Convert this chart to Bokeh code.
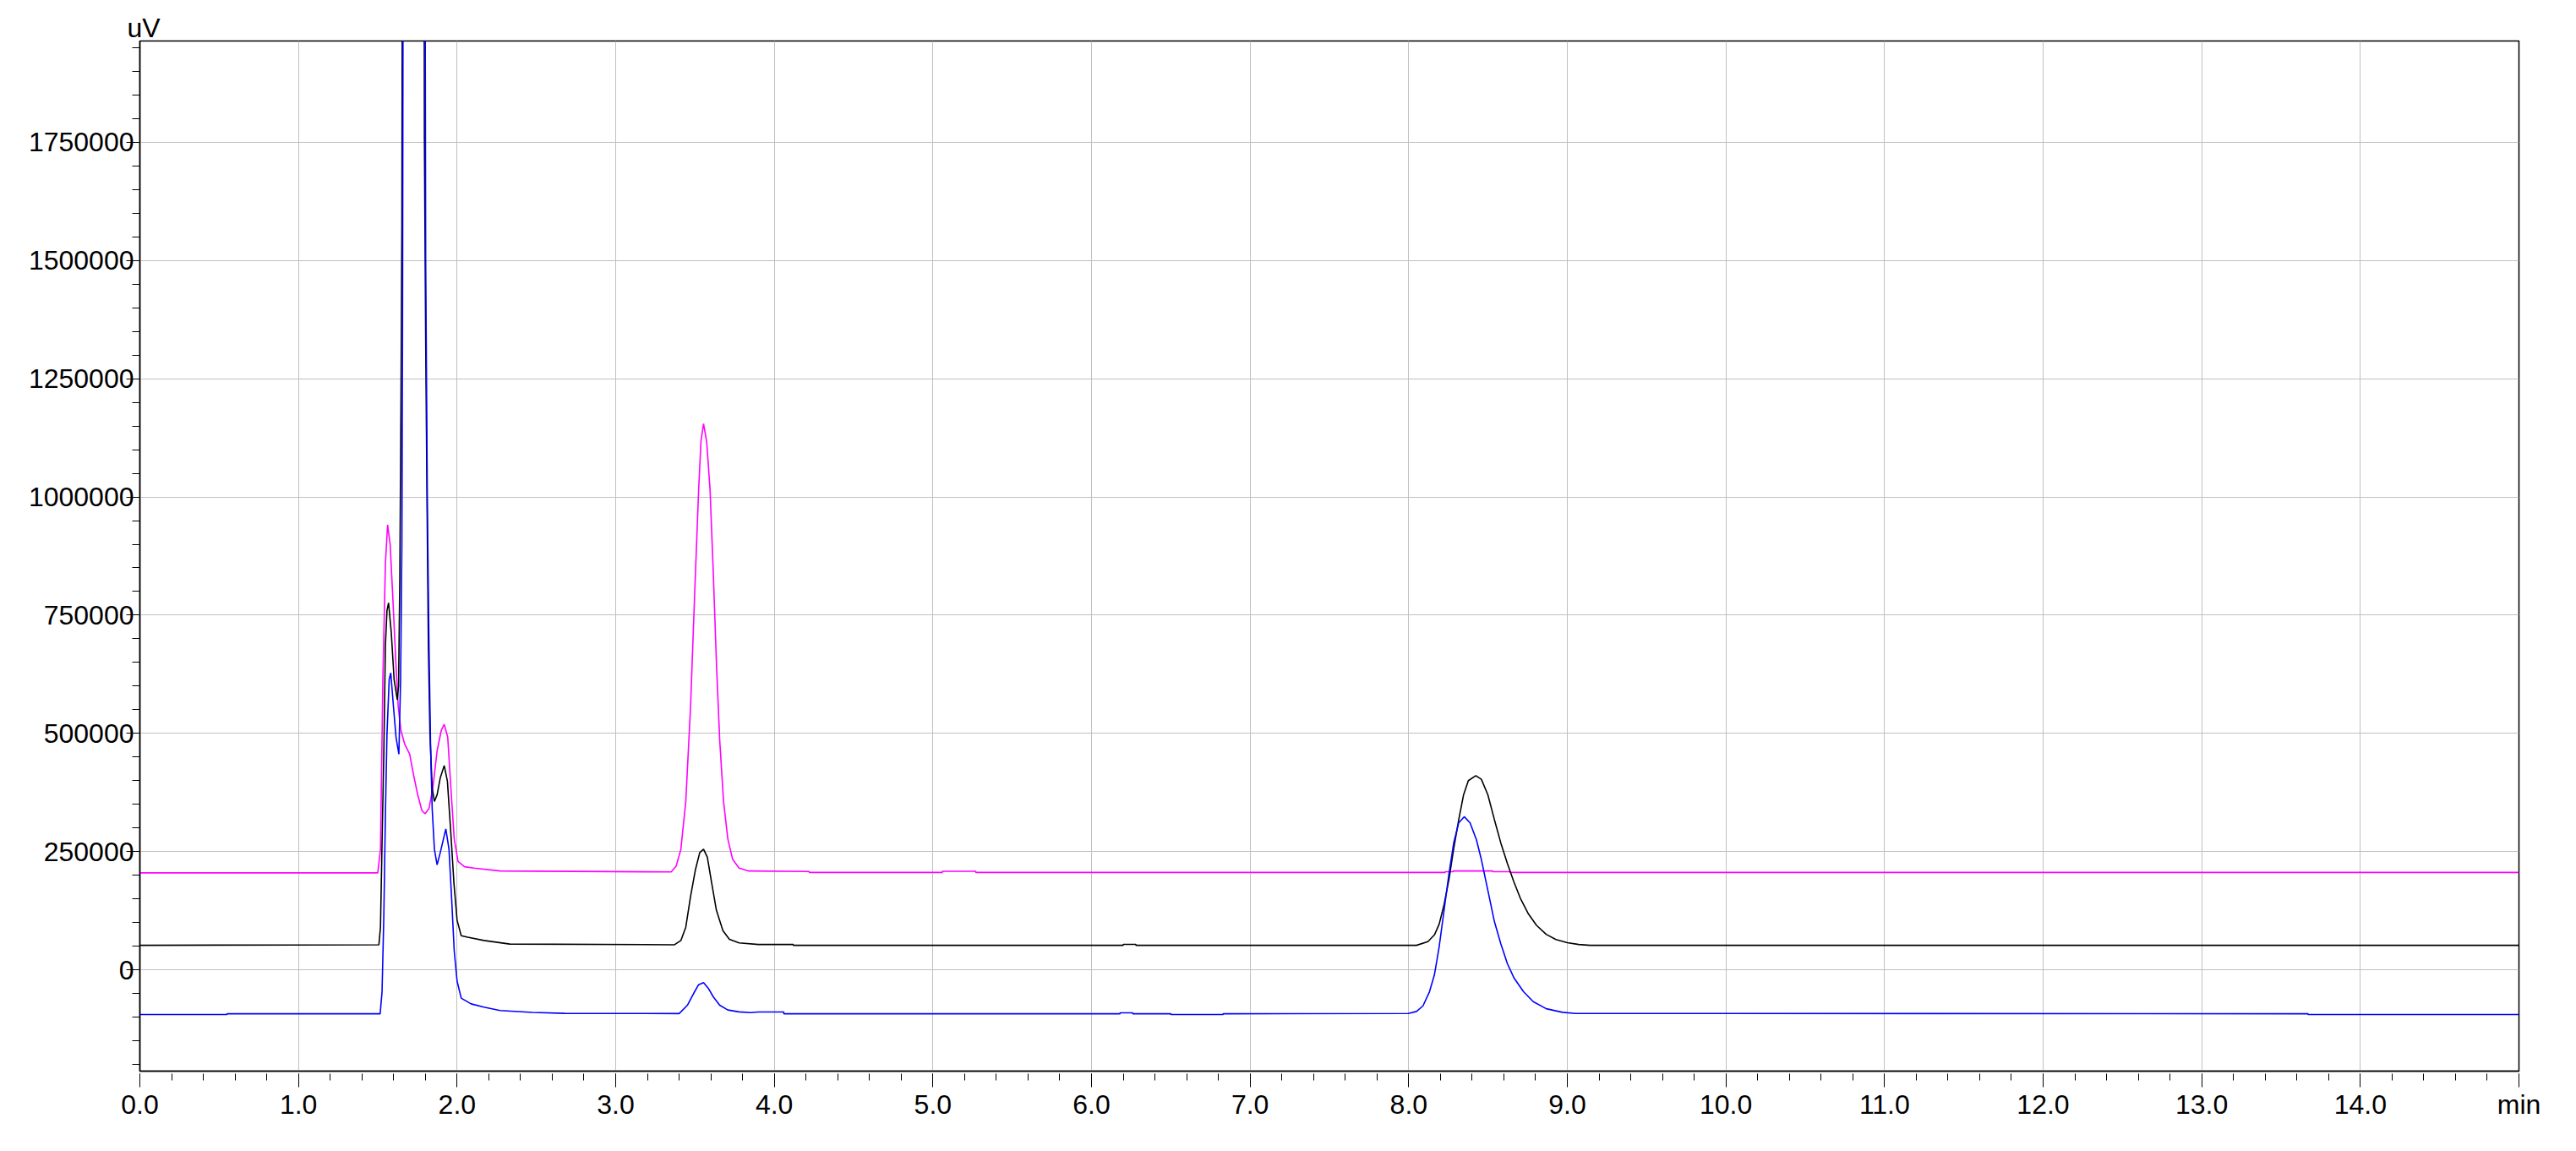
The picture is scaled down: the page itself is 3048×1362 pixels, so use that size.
from bokeh.plotting import figure
from bokeh.models import Range1d, FixedTicker, Title
from bokeh.embed import file_html
from bokeh.resources import INLINE

# ---- axis ticks / labels ----
x_major = [0, 1, 2, 3, 4, 5, 6, 7, 8, 9, 10, 11, 12, 13, 14, 15]
x_labels = ["0.0", "1.0", "2.0", "3.0", "4.0", "5.0", "6.0", "7.0", "8.0",
            "9.0", "10.0", "11.0", "12.0", "13.0", "14.0", "min"]
x_minor = [round(i * 0.2, 1) for i in range(0, 76)]
y_major = [0, 250000, 500000, 750000, 1000000, 1250000, 1500000, 1750000]
y_labels = ["0", "250000", "500000", "750000", "1000000", "1250000", "1500000", "1750000"]
y_minor = [i * 50000 for i in range(-4, 40)]
y_unit = "uV"

# ---- trace 1 (magenta) ----
t_magenta = [0.0, 1.50, 1.517, 1.532, 1.548, 1.562, 1.578, 1.595, 1.615, 1.629, 1.646,
             1.670, 1.701, 1.725, 1.752, 1.778, 1.798, 1.823, 1.847, 1.874, 1.900,
             1.919, 1.941, 1.961, 1.982, 2.006, 2.047, 2.108, 2.271, 3.35, 3.381,
             3.411, 3.442, 3.472, 3.497, 3.523, 3.538, 3.554, 3.574, 3.595, 3.615,
             3.636, 3.656, 3.680, 3.707, 3.737, 3.778, 3.839, 4.22, 4.22, 5.06,
             5.06, 5.27, 5.27, 8.23, 8.23, 8.28, 8.28, 8.53, 8.53, 8.64, 8.64, 15.0]
v_magenta = [205000, 205000, 255000, 614000, 858000, 941000, 900000, 786000, 642000,
             556000, 506000, 477000, 456000, 413000, 370000, 337000, 330000, 341000,
             384000, 463000, 506000, 519000, 492000, 384000, 277000, 229000, 218000,
             215000, 209000, 207000, 219000, 255000, 356000, 556000, 786000, 1015000,
             1119000, 1155000, 1116000, 1015000, 843000, 642000, 485000, 356000,
             277000, 234000, 215000, 209000, 208000, 206000, 206000, 208500, 208500,
             206000, 206000, 207500, 207500, 209000, 209000, 207500, 207500, 206000,
             206000]

# ---- trace 2 (black) ----
t_black = [0.0, 1.507, 1.517, 1.527, 1.538, 1.548, 1.558, 1.568, 1.585, 1.603, 1.623,
           1.631, 1.639, 1.646, 1.652, 1.656, 1.665, 1.72, 1.785, 1.791, 1.794, 1.802,
           1.811, 1.819, 1.829, 1.843, 1.857, 1.874, 1.894, 1.919, 1.939, 1.959, 1.980,
           2.000, 2.026, 2.067, 2.169, 2.332, 3.371, 3.411, 3.442, 3.472, 3.503, 3.530,
           3.554, 3.578, 3.605, 3.635, 3.676, 3.717, 3.778, 3.900, 4.12, 4.12, 6.20,
           6.20, 6.28, 6.28, 8.049, 8.121, 8.162, 8.192, 8.223, 8.254, 8.284, 8.315,
           8.346, 8.376, 8.423, 8.458, 8.499, 8.540, 8.581, 8.622, 8.663, 8.703, 8.755,
           8.806, 8.867, 8.928, 9.0, 9.072, 9.143, 15.0]
v_black = [51800, 53000, 90000, 270000, 456000, 685000, 760000, 776000, 714000, 614000,
           571000, 600000, 829000, 1187000, 1575000, 2400000, 6000000, 12000000,
           6000000, 2400000, 1761000, 1331000, 972000, 685000, 499000, 384000, 356000,
           370000, 406000, 432000, 399000, 298000, 184000, 105000, 72000, 69000, 62000,
           54500, 53000, 62000, 90000, 155000, 212000, 248000, 255000, 238000, 184000,
           126000, 83000, 64500, 57000, 53500, 53500, 51800, 51800, 53700, 53700, 51800,
           51800, 59500, 73800, 96400, 138000, 191700, 257000, 316700, 370200, 400000,
           410700, 403000, 370200, 318000, 268000, 225000, 186000, 152000, 118000,
           94000, 75000, 64000, 57500, 53600, 51800, 51800]

# ---- trace 3 (blue) ----
t_blue = [0.0, 0.55, 0.55, 1.515, 1.527, 1.538, 1.548, 1.558, 1.572, 1.582, 1.599,
          1.615, 1.633, 1.644, 1.652, 1.656, 1.661, 1.67, 1.73, 1.79, 1.797, 1.802,
          1.813, 1.823, 1.833, 1.843, 1.857, 1.874, 1.894, 1.929, 1.949, 1.965, 1.982,
          2.000, 2.026, 2.088, 2.169, 2.271, 2.475, 2.678, 3.40, 3.411, 3.452, 3.493,
          3.523, 3.554, 3.584, 3.615, 3.656, 3.707, 3.778, 3.85, 3.90, 4.06, 4.06,
          6.18, 6.18, 6.26, 6.26, 6.50, 6.50, 6.83, 6.83, 7.998, 8.049, 8.090, 8.131,
          8.162, 8.192, 8.223, 8.254, 8.284, 8.315, 8.350, 8.387, 8.427, 8.458, 8.499,
          8.540, 8.581, 8.622, 8.663, 8.724, 8.785, 8.867, 8.969, 9.051, 13.67, 13.67,
          15.0]
v_blue = [-94600, -94600, -92900, -92900, -46000, 112000, 327000, 499000, 614000,
          628000, 556000, 492000, 456000, 614000, 900000, 1331000, 2400000, 6000000,
          12000000, 6000000, 2400000, 1503000, 972000, 685000, 470000, 341000, 255000,
          222000, 248000, 298000, 255000, 155000, 40000, -24000, -60000, -72000, -79000,
          -86000, -90000, -92000, -92500, -89000, -75000, -49000, -31500, -27000,
          -39000, -57000, -75000, -85000, -89000, -90500, -89300, -89300, -92900,
          -92900, -91000, -91000, -92900, -92900, -94600, -94600, -92900, -92300,
          -88100, -76200, -46400, -10700, 48800, 126200, 203600, 269000, 310700,
          323800, 310700, 275000, 233300, 167800, 102400, 54800, 13100, -16700, -46400,
          -67300, -82300, -89900, -92300, -92900, -94600, -94600]

FONT = "Liberation Sans"

p = figure(frame_width=2815, frame_height=1219,
           x_range=Range1d(0, 15), y_range=Range1d(-214286, 1964286),
           output_backend="svg", toolbar_location=None,
           min_border_left=165, min_border_top=48, min_border_right=52,
           min_border_bottom=79)
p.background_fill_color = "white"
p.border_fill_color = "white"
p.outline_line_color = "black"
p.outline_line_width = 1.5

p.title = Title(text=y_unit, align="left", offset=-15, standoff=-4,
                text_font=FONT, text_font_size="32px", text_font_style="normal",
                text_color="black")

p.line(t_magenta, v_magenta, line_color="#ff00ff", line_width=1.6)
p.line(t_black, v_black, line_color="#000000", line_width=1.6)
p.line(t_blue, v_blue, line_color="#0000ff", line_width=1.6)

xa = p.xaxis[0]
xa.ticker = FixedTicker(ticks=x_major, minor_ticks=x_minor)
xa.major_label_overrides = dict(zip(x_major, x_labels))
ya = p.yaxis[0]
ya.ticker = FixedTicker(ticks=y_major, minor_ticks=y_minor)
ya.major_label_overrides = dict(zip(y_major, y_labels))

for ax in (xa, ya):
    ax.axis_line_color = "black"
    ax.axis_line_width = 1.5
    ax.major_tick_line_color = "black"
    ax.minor_tick_line_color = "black"
    ax.major_tick_line_width = 1
    ax.minor_tick_line_width = 1
    ax.major_label_text_font = FONT
    ax.major_label_text_font_size = "32px"
    ax.major_label_text_color = "black"

xa.major_tick_in = -3
xa.major_tick_out = 19
xa.minor_tick_in = -3
xa.minor_tick_out = 11
xa.major_label_standoff = 2

ya.major_tick_in = 0
ya.major_tick_out = 16
ya.minor_tick_in = 0
ya.minor_tick_out = 9
ya.major_label_standoff = -9

p.xgrid.grid_line_color = "#c0c0c0"
p.ygrid.grid_line_color = "#c0c0c0"
p.xgrid.grid_line_width = 1
p.ygrid.grid_line_width = 1

open("out.html", "w").write(file_html(p, INLINE))
